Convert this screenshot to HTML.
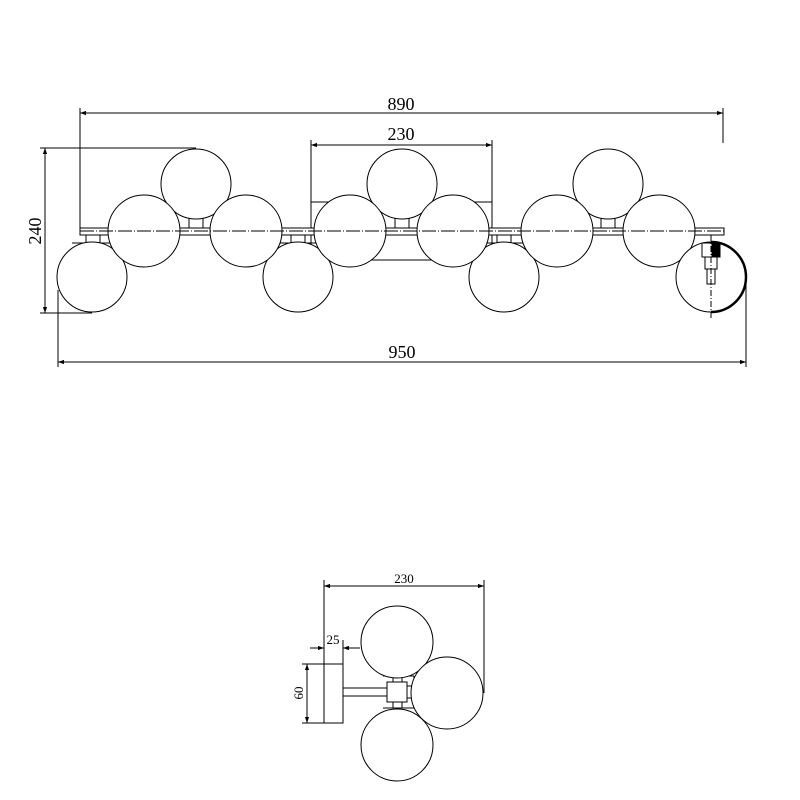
<!DOCTYPE html>
<html><head><style>body{margin:0;background:#fff}svg{display:block}text{font-family:"Liberation Serif",serif;fill:#000}</style></head><body>
<svg width="800" height="800" viewBox="0 0 800 800" xmlns="http://www.w3.org/2000/svg">
<defs><marker id="a" viewBox="0 0 10 10" refX="10" refY="5" markerWidth="14" markerHeight="6" markerUnits="userSpaceOnUse" orient="auto-start-reverse"><path d="M0,1.5L10,5L0,8.5Z" fill="#000"/></marker></defs>
<g stroke="#000" stroke-width="1" fill="none">
<!-- dims top -->
<line x1="80" y1="108" x2="80" y2="228"/><line x1="723" y1="108" x2="723" y2="143"/>
<line x1="80" y1="113" x2="723" y2="113" marker-start="url(#a)" marker-end="url(#a)"/>
<line x1="311" y1="140" x2="311" y2="202"/><line x1="492" y1="140" x2="492" y2="202"/>
<line x1="311" y1="145" x2="492" y2="145" marker-start="url(#a)" marker-end="url(#a)"/>
<line x1="40" y1="148" x2="196" y2="148"/><line x1="40" y1="313" x2="92" y2="313"/>
<line x1="45" y1="148" x2="45" y2="313" marker-start="url(#a)" marker-end="url(#a)"/>
<line x1="58" y1="290" x2="58" y2="367"/><line x1="746" y1="277" x2="746" y2="367"/>
<line x1="58" y1="362" x2="746" y2="362" marker-start="url(#a)" marker-end="url(#a)"/>
<!-- mount plate -->
<rect x="311" y="202" width="181" height="58"/>
<!-- rail -->
<rect x="80" y="228" width="644" height="7" fill="#fff"/>
<!-- stems -->
<rect x="189" y="213" width="14" height="15" fill="#fff"/><rect x="395" y="213" width="14" height="15" fill="#fff"/><rect x="601" y="213" width="14" height="15" fill="#fff"/>
<rect x="86" y="235" width="14" height="8" fill="#fff"/><rect x="291" y="235" width="14" height="8" fill="#fff"/><rect x="497" y="235" width="14" height="8" fill="#fff"/>
<line x1="176" y1="213" x2="216" y2="213"/><line x1="382" y1="213" x2="422" y2="213"/><line x1="588" y1="213" x2="628" y2="213"/>
<line x1="72" y1="243" x2="112" y2="243"/><line x1="278" y1="243" x2="318" y2="243"/><line x1="484" y1="243" x2="524" y2="243"/>
<g fill="#fff">
<circle cx="196" cy="184" r="35"/><circle cx="402" cy="184" r="35"/><circle cx="608" cy="184" r="35"/>
<circle cx="92" cy="277" r="35"/><circle cx="298" cy="277" r="35"/><circle cx="504" cy="277" r="35"/>
<circle cx="144" cy="231" r="36"/><circle cx="246" cy="231" r="36"/><circle cx="350" cy="231" r="36"/><circle cx="453" cy="231" r="36"/><circle cx="557" cy="231" r="36"/><circle cx="659" cy="231" r="36"/>
<circle cx="711" cy="277" r="35"/>
</g>
<path d="M711,242 A35,35 0 0 1 711,312" stroke-width="2.5"/>
<rect x="702" y="243" width="18" height="14" fill="#fff"/><rect x="712" y="243" width="8" height="14" fill="#000"/>
<rect x="705" y="257" width="12" height="12"/><rect x="707" y="269" width="8" height="15"/>
<line x1="711" y1="235" x2="711" y2="320" stroke-dasharray="6,2,1,2"/>
<line x1="80" y1="231" x2="724" y2="231" stroke-dasharray="14,2,1,2"/>
<!-- bottom view -->
<line x1="324" y1="580" x2="324" y2="723"/><line x1="484" y1="580" x2="484" y2="693"/>
<line x1="324" y1="586" x2="484" y2="586" marker-start="url(#a)" marker-end="url(#a)"/>
<line x1="343" y1="640" x2="343" y2="664"/>
<line x1="310" y1="648" x2="324" y2="648" marker-end="url(#a)"/><line x1="360" y1="648" x2="343" y2="648" marker-end="url(#a)"/>
<line x1="302" y1="664" x2="324" y2="664"/><line x1="302" y1="723" x2="324" y2="723"/>
<line x1="307" y1="664" x2="307" y2="723" marker-start="url(#a)" marker-end="url(#a)"/>
<rect x="324" y="664" width="19" height="59"/>
<rect x="343" y="688" width="44" height="8"/>
<rect x="387" y="682" width="20" height="20"/><rect x="393" y="676" width="9" height="6"/><rect x="393" y="702" width="9" height="6"/><rect x="407" y="686" width="5" height="12"/>
<line x1="383" y1="676" x2="414" y2="676"/><line x1="383" y1="708" x2="414" y2="708"/>
<line x1="414" y1="676" x2="414" y2="708"/>
<g fill="#fff"><circle cx="397" cy="642" r="36"/><circle cx="447" cy="693" r="36"/><circle cx="397" cy="745" r="36"/></g>
</g>
<text x="401" y="110" font-size="18" text-anchor="middle">890</text>
<text x="401" y="140" font-size="18" text-anchor="middle">230</text>
<text x="402" y="358" font-size="18" text-anchor="middle">950</text>
<text transform="translate(41,231) rotate(-90)" font-size="18" text-anchor="middle">240</text>
<text x="404" y="583" font-size="13" text-anchor="middle">230</text>
<text x="333" y="644" font-size="13" text-anchor="middle">25</text>
<text transform="translate(303,693) rotate(-90)" font-size="13" text-anchor="middle">60</text>
</svg>
</body></html>
